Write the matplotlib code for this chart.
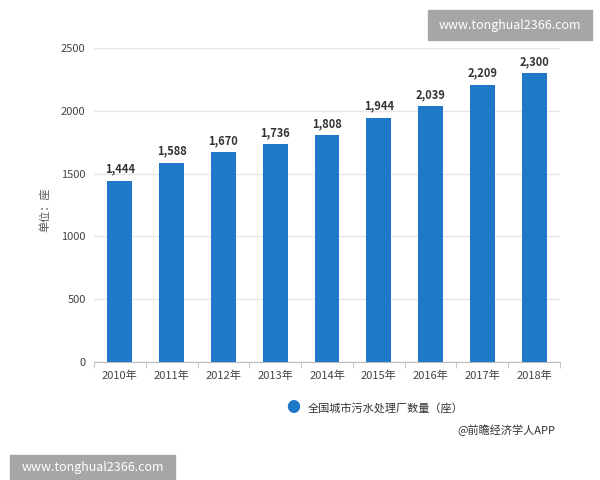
import matplotlib

matplotlib.use("Agg")
import matplotlib.pyplot as plt
import numpy as np

plt.rcParams["font.family"] = ["Noto Sans CJK SC", "DejaVu Sans"]

years = ["2010年", "2011年", "2012年", "2013年", "2014年", "2015年", "2016年", "2017年", "2018年"]
plants = [1444, 1588, 1670, 1736, 1808, 1944, 2039, 2209, 2300]
yticks = [0, 500, 1000, 1500, 2000, 2500]
watermark = "www.tonghual2366.com"

bar_color = "#1f78c8"

fig = plt.figure(figsize=(6, 4.8), dpi=100)
ax = fig.add_axes([94 / 600, 1 - 362 / 480, 466 / 600, 314 / 480])

x = np.arange(len(years))
ax.bar(x, plants, width=0.48, color=bar_color, zorder=3)
for xi, v in zip(x, plants):
    ax.text(xi, v + 40, f"{v:,}", ha="center", va="bottom", fontsize=8,
            fontweight="bold", color="#333333", zorder=4)

ax.set_xlim(-0.5, len(years) - 0.5)
ax.set_ylim(0, 2500)
ax.set_yticks(yticks)
ax.set_yticklabels([str(t) for t in yticks], fontsize=8, color="#444444")
ax.set_xticks(x)
ax.set_xticklabels(years, fontsize=8, color="#444444")
ax.set_xticks(np.arange(len(years) + 1) - 0.5, minor=True)
ax.tick_params(axis="x", which="major", length=0, pad=6)
ax.tick_params(axis="x", which="minor", length=4, color="#bbbbbb")
ax.tick_params(axis="y", length=0, pad=6)
ax.grid(axis="y", color="#e6e6e6", linewidth=1, zorder=0)
for side in ["top", "right", "left"]:
    ax.spines[side].set_visible(False)
ax.spines["bottom"].set_color("#bbbbbb")

fig.text(45 / 600, 1 - 210 / 480, "单位：座", rotation=90, ha="center", va="center",
         fontsize=8, color="#555555")

# legend
fig.text(0.5, 1 - 408 / 480, "●", ha="right", va="center", fontsize=10, color=bar_color)
fig.text(0.5 + 8 / 600, 1 - 408 / 480, "全国城市污水处理厂数量（座）", ha="left", va="center",
         fontsize=8, color="#333333")

fig.text(555 / 600, 1 - 430 / 480, "@前瞻经济学人APP", ha="right", va="center",
         fontsize=8, color="#333333")

# watermark boxes
for (x0, y0, w, h) in [(428, 10, 164, 30), (10, 455, 165, 30)]:
    fig.patches.append(plt.Rectangle((x0 / 600, 1 - (y0 + h) / 480), w / 600, h / 480,
                                     transform=fig.transFigure, color="#a6a6a6", zorder=5))
    fig.text((x0 + w / 2) / 600, 1 - (y0 + min(h, 480 - y0) / 2) / 480, watermark,
             ha="center", va="center", fontsize=9, color="white", zorder=6)

fig.savefig("out.png", dpi=100)
